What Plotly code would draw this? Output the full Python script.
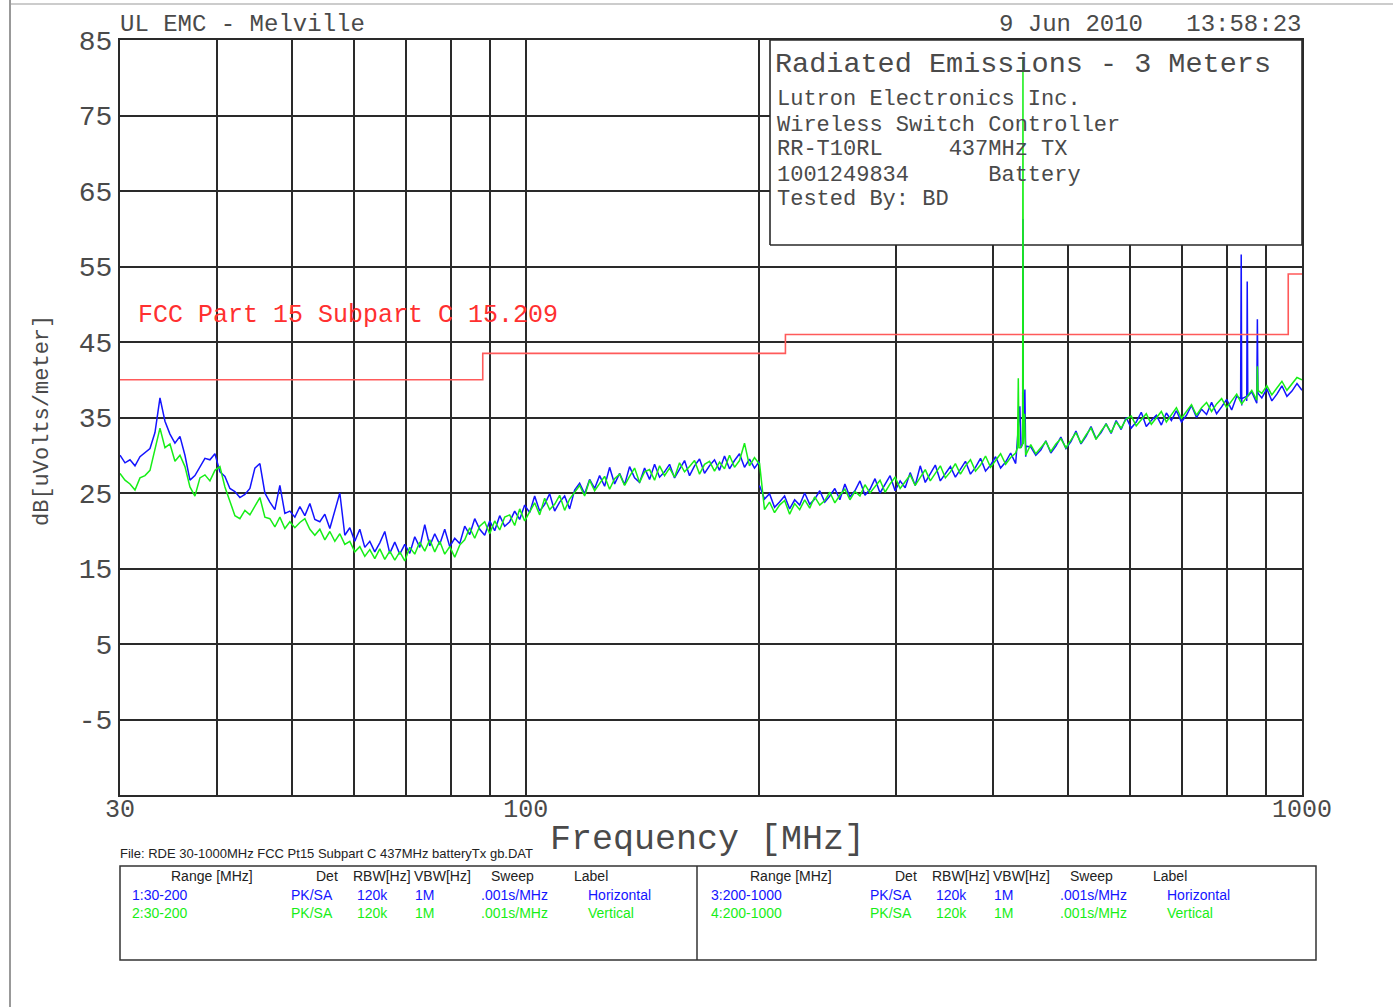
import numpy as np
import plotly.graph_objects as go

# ---------------------------------------------------------------------------
# Radiated emissions scan, 3 m, 30-1000 MHz (peak detector)
# Sweep 1/2: 30-200 MHz, sweep 3/4: 200-1000 MHz, readings in dB(uV/m)
# ---------------------------------------------------------------------------
horiz_30_200 = [
    30.0, 29.0, 29.4, 28.6, 29.8, 30.3, 30.9, 33.0, 37.6, 34.5,
    32.8, 31.6, 32.5, 30.0, 26.7, 27.3, 28.5, 29.6, 29.4, 30.2,
    27.8, 27.2, 25.6, 25.2, 24.4, 24.8, 25.6, 28.3, 28.9, 25.0,
    23.8, 22.8, 26.0, 22.3, 22.6, 21.8, 23.2, 22.0, 23.6, 21.5,
    21.2, 22.2, 20.3, 22.8, 25.0, 19.4, 20.4, 18.6, 20.2, 17.8,
    18.6, 17.2, 18.4, 19.9, 17.0, 18.5, 16.9, 18.2, 17.0, 19.2,
    17.8, 20.8, 18.0, 19.6, 18.2, 20.2, 17.9, 19.0, 18.3, 20.6,
    19.5, 21.6, 20.2, 19.4, 21.3, 20.0, 22.0, 20.6, 21.2, 22.6,
    21.5, 23.4, 22.4, 24.6, 22.6, 23.5, 24.9, 22.6, 23.8, 24.6,
    22.9, 25.4, 26.3, 24.9, 26.8, 25.6, 27.3, 25.9, 28.4, 26.2,
    27.6, 26.1, 28.5, 27.0, 26.4, 28.3, 26.8, 28.8, 27.1, 27.8,
    28.8, 27.0, 28.2, 29.3, 27.3, 28.6, 29.5, 27.6, 28.6, 29.4,
    28.0, 29.9, 28.2, 29.3, 30.2, 28.4, 29.5, 28.3, 29.2,
]
vert_30_200 = [
    27.6, 26.7, 26.2, 25.4, 27.0, 27.3, 28.0, 30.6, 33.6, 31.0,
    31.5, 29.2, 30.0, 28.5, 25.8, 24.6, 27.0, 27.4, 26.6, 28.0,
    28.5, 25.8, 23.8, 22.0, 21.6, 22.7, 22.1, 23.2, 24.4, 21.8,
    21.6, 20.5, 21.8, 20.3, 21.2, 20.4, 21.1, 21.6, 20.2, 19.4,
    20.2, 18.8, 19.9, 18.6, 19.6, 18.2, 18.6, 17.2, 17.9, 16.6,
    17.5, 16.3, 17.6, 16.2, 17.3, 16.1, 17.2, 16.0, 17.8, 16.9,
    18.5, 17.3, 18.8, 17.2, 18.6, 16.9, 17.9, 16.5, 18.1, 18.8,
    20.4, 19.0, 20.6, 21.2, 19.6, 21.3, 20.1, 21.8, 22.1, 20.7,
    22.9, 21.3, 22.6, 23.7, 22.1, 24.3, 22.8, 23.5, 24.7, 22.7,
    24.2, 25.1, 26.0, 24.6, 26.7, 25.3, 26.2, 27.2, 25.5, 26.9,
    27.5, 26.0, 27.2, 28.3, 26.4, 27.8, 28.1, 26.7, 28.6, 27.3,
    28.3, 27.1, 29.0, 27.8, 28.5, 29.3, 27.5, 28.8, 29.2, 27.9,
    29.1, 28.2, 30.0, 28.4, 29.3, 31.6, 28.6, 29.7, 28.8,
]
horiz_200_1000 = [
    26.0, 24.2, 24.9, 23.1, 23.8, 24.6, 22.9, 24.1, 23.4, 25.0,
    23.5, 24.2, 25.3, 23.8, 24.6, 25.6, 24.1, 26.2, 24.5, 25.3,
    26.6, 24.7, 25.5, 26.9, 25.0, 26.1, 27.3, 25.3, 26.6, 25.7,
    27.7, 26.0, 28.6, 26.4, 27.5, 28.7, 26.6, 27.6, 28.5, 27.1,
    28.2, 29.2, 27.5, 28.4, 29.6, 27.9, 28.7, 29.8, 28.3, 29.1,
    30.3, 28.9, 31.8, 29.8, 31.1, 30.0, 30.7, 31.9, 30.3, 31.2,
    32.4, 30.9, 31.8, 33.2, 31.5, 32.5, 33.8, 32.2, 33.0, 34.2,
    32.9, 34.6, 33.4, 35.0, 33.6, 34.4, 35.7, 33.8, 34.6, 35.3,
    34.0, 35.6, 34.6, 35.9, 34.4, 35.3, 36.6, 35.0, 36.1, 35.4,
    37.0, 35.5, 36.4, 37.4, 36.0, 37.8, 36.6, 37.2, 38.4, 36.9,
    37.6, 38.8, 37.2, 38.1, 39.2, 37.8, 38.5, 39.5, 38.6,
]
vert_200_1000 = [
    29.0, 22.8, 23.8, 22.4, 23.4, 24.0, 22.2, 23.6, 22.8, 24.1,
    23.0, 24.5, 23.4, 24.0, 25.1, 23.7, 24.7, 25.5, 24.1, 25.2,
    24.6, 26.1, 25.0, 25.8, 26.7, 25.1, 26.2, 27.1, 25.6, 26.5,
    27.4, 26.0, 27.0, 28.1, 26.6, 27.6, 28.6, 27.0, 27.8, 28.9,
    27.5, 28.6, 29.4, 27.9, 28.7, 29.9, 28.4, 29.3, 30.2, 28.8,
    29.7, 30.3, 31.0, 30.0, 31.4, 30.2, 31.0, 31.8, 30.5, 31.5,
    32.2, 31.0, 32.0, 33.0, 31.6, 32.7, 33.6, 32.1, 33.2, 34.1,
    33.0, 34.4, 33.6, 34.8, 35.2, 33.9, 34.7, 35.5, 34.1, 35.0,
    35.8, 34.4, 35.3, 36.3, 34.9, 35.8, 36.7, 35.3, 36.3, 37.0,
    35.8, 36.8, 37.5, 36.3, 37.2, 38.1, 36.8, 37.7, 38.6, 37.3,
    38.2, 39.2, 38.0, 38.9, 39.8, 38.6, 39.5, 40.3, 40.0,
]

# Narrow-band emissions (fundamental at 437 MHz and harmonics), MHz / dB(uV/m)
horiz_spike_mhz = [433.0, 434.5, 436.6, 437.0, 437.4, 439.5, 441.0,
                   833.5, 835.0, 836.5, 848.5, 850.0, 851.5, 874.5, 876.0, 877.5]
horiz_spike_db = [36.5, 31.0, 31.5, 61.3, 31.5, 38.7, 31.2,
                  37.5, 56.6, 37.5, 37.8, 53.0, 37.8, 38.2, 48.0, 38.2]
vert_spike_mhz = [430.0, 431.0, 432.0, 436.6, 437.0, 437.4, 439.0, 440.0,
                  874.5, 876.0, 877.5]
vert_spike_db = [31.0, 40.2, 31.0, 31.5, 82.4, 31.5, 35.5, 31.2,
                 38.6, 41.8, 38.6]

# FCC Part 15.209 limit at 3 m
limit_mhz = [30, 88, 216, 960, 1000]
limit_db = [40.0, 43.5, 46.0, 54.0, 54.0]

# Axis ticks
y_ticks = [-5, 5, 15, 25, 35, 45, 55, 65, 75, 85]
x_major = [30, 100, 1000]
x_minor = [40, 50, 60, 70, 80, 90, 200, 300, 400, 500, 600, 700, 800, 900]

F_MIN, F_MAX = 30, 1000
DB_MIN, DB_MAX = -15, 85

BLUE = "#1414ff"
GREEN = "#17ee17"
RED = "#ff5a5a"
TEXT = "#4a4a4a"
GRID = "#2a2a2a"
MONO = "Liberation Mono, Courier New, monospace"
NARROW = "Liberation Sans Narrow, Arial Narrow, Liberation Sans, sans-serif"

# Plot area in pixels: x 120..1302, y 40..795
L, R, T, B = 120, 1302, 40, 795


def px(x):
    return (x - L) / (R - L)


def py(y):
    return (B - y) / (B - T)


def sweep(f_start, f_stop, values):
    return np.geomspace(f_start, f_stop, len(values))


def with_spikes(freqs, values, s_freqs, s_values):
    f = np.concatenate([freqs, s_freqs])
    v = np.concatenate([values, s_values])
    order = np.argsort(f)
    return f[order], v[order]


fig = go.Figure()

# White information panel in the upper-right corner (under the traces)
lf0, lf1 = np.log10(F_MIN), np.log10(F_MAX)
box_f = 10 ** (lf0 + px(770) * (lf1 - lf0))
box_db = DB_MIN + py(245) * (DB_MAX - DB_MIN)
fig.add_trace(go.Scatter(
    x=[box_f, F_MAX, F_MAX, box_f, box_f],
    y=[box_db, box_db, DB_MAX, DB_MAX, box_db],
    mode="lines", fill="toself", fillcolor="white",
    line=dict(color=GRID, width=1.6), hoverinfo="skip", name="panel"))

line_w = 1.5
fa = sweep(30, 200, horiz_30_200)
fig.add_trace(go.Scatter(x=fa, y=horiz_30_200, mode="lines",
                         line=dict(color=BLUE, width=line_w), name="1:30-200"))
fb, vb = with_spikes(sweep(200, 1000, horiz_200_1000), horiz_200_1000,
                     horiz_spike_mhz, horiz_spike_db)
fig.add_trace(go.Scatter(x=fb, y=vb, mode="lines",
                         line=dict(color=BLUE, width=line_w), name="3:200-1000"))

fa = sweep(30, 200, vert_30_200)
fig.add_trace(go.Scatter(x=fa, y=vert_30_200, mode="lines",
                         line=dict(color=GREEN, width=line_w), name="2:30-200"))
fb, vb = with_spikes(sweep(200, 1000, vert_200_1000), vert_200_1000,
                     vert_spike_mhz, vert_spike_db)
fig.add_trace(go.Scatter(x=fb, y=vb, mode="lines",
                         line=dict(color=GREEN, width=line_w), name="4:200-1000"))

fig.add_trace(go.Scatter(x=limit_mhz, y=limit_db, mode="lines",
                         line=dict(color=RED, width=1.6, shape="hv"),
                         name="FCC 15.209"))

ann = []


def text(s, x, y, size, color=TEXT, font=MONO, xanchor="left", angle=0):
    ann.append(dict(text=s, x=px(x), y=py(y), xref="paper", yref="paper",
                    xanchor=xanchor, yanchor="middle", showarrow=False,
                    borderpad=0, textangle=angle,
                    font=dict(family=font, size=size, color=color)))


text("UL EMC - Melville", 119, 24, 24)
text("9 Jun 2010   13:58:23", 1302, 24, 24, xanchor="right")

text("Radiated Emissions - 3 Meters", 774, 64, 28.5)
info_lines = ["Lutron Electronics Inc.",
              "Wireless Switch Controller",
              "RR-T10RL     437MHz TX",
              "1001249834      Battery",
              "Tested By: BD"]
for i, s in enumerate(info_lines):
    text(s, 776, 100 + 25 * i, 22)

text("FCC Part 15 Subpart C 15.209", 137, 315, 25, color="#ff3030")
text("dB[uVolts/meter]", 43, 421, 22, xanchor="center", angle=-90)
text("Frequency [MHz]", 707, 840, 35, xanchor="center")
text("File: RDE 30-1000MHz FCC Pt15 Subpart C 437MHz batteryTx gb.DAT", 119, 853, 13,
     color="#222222", font=NARROW)

# Sweep settings table
header = [("Range [MHz]", 170), ("Det", 315), ("RBW[Hz]", 352), ("VBW[Hz]", 413),
          ("Sweep", 490), ("Label", 573)]
rows = [
    (BLUE, ["1:30-200", "PK/SA", "120k", "1M", ".001s/MHz", "Horizontal"], 895, 0),
    (GREEN, ["2:30-200", "PK/SA", "120k", "1M", ".001s/MHz", "Vertical"], 913, 0),
    (BLUE, ["3:200-1000", "PK/SA", "120k", "1M", ".001s/MHz", "Horizontal"], 895, 579),
    (GREEN, ["4:200-1000", "PK/SA", "120k", "1M", ".001s/MHz", "Vertical"], 913, 579),
]
row_cols = [131, 290, 356, 414, 480, 587]
for off in (0, 579):
    for s, x in header:
        text(s, x + off, 876, 14, color="#222222", font=NARROW)
for color, cells, y, off in rows:
    for s, x in zip(cells, row_cols):
        text(s, x + off, y, 14, color=color, font=NARROW)

shapes = [
    # settings table frame and divider
    dict(type="rect", xref="paper", yref="paper", x0=px(120), x1=px(1316),
         y0=py(960), y1=py(866), line=dict(color="#333333", width=1.5)),
    dict(type="line", xref="paper", yref="paper", x0=px(697), x1=px(697),
         y0=py(960), y1=py(866), line=dict(color="#333333", width=1.5)),
    # page edges
    dict(type="line", xref="paper", yref="paper", x0=px(10), x1=px(10),
         y0=py(1007), y1=py(0), line=dict(color="#777777", width=1.5)),
    dict(type="line", xref="paper", yref="paper", x0=px(10), x1=px(1393),
         y0=py(4), y1=py(4), line=dict(color="#999999", width=1)),
]

fig.update_layout(
    width=1393, height=1007, autosize=False,
    margin=dict(l=L, r=1393 - R, t=T, b=1007 - B),
    paper_bgcolor="white", plot_bgcolor="white",
    showlegend=False,
    annotations=ann, shapes=shapes,
    xaxis=dict(
        type="log", range=[lf0, lf1],
        tickmode="array", tickvals=x_major, ticktext=["30", "100", "1000"],
        tickfont=dict(family=MONO, size=25, color=TEXT),
        ticks="", showgrid=True, gridcolor=GRID, gridwidth=1.5,
        minor=dict(tickmode="array", tickvals=x_minor, showgrid=True,
                   gridcolor=GRID, gridwidth=1.5, ticks=""),
        showline=True, mirror=True, linecolor=GRID, linewidth=2,
        zeroline=False, ticklabelstandoff=-10,
    ),
    yaxis=dict(
        range=[DB_MIN, DB_MAX], tickmode="array", tickvals=y_ticks,
        ticktext=[str(v) for v in y_ticks],
        tickfont=dict(family=MONO, size=28, color=TEXT),
        ticks="", showgrid=True, gridcolor=GRID, gridwidth=1.5,
        showline=True, mirror=True, linecolor=GRID, linewidth=2,
        zeroline=False, ticklabelstandoff=0,
    ),
)

fig.write_html("out.html")
